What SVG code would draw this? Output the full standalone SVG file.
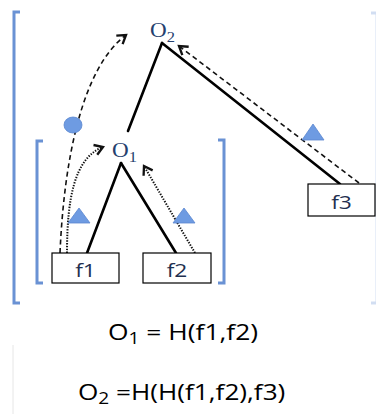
<svg xmlns="http://www.w3.org/2000/svg" width="376" height="414" viewBox="0 0 376 414">
<style>
.br{fill:none;stroke:#6a92d4;stroke-width:3}
.edge{fill:none;stroke:#000;stroke-width:2.6;stroke-linecap:round}
.dash{fill:none;stroke:#111;stroke-width:1.6;stroke-dasharray:5 3.5}
.dot{fill:none;stroke:#111;stroke-width:2;stroke-dasharray:1.4 1.4}
.box{fill:#fff;stroke:#000;stroke-width:1.2}
.tri{fill:#6e9be2;stroke:#5b87cf;stroke-width:0.8}
.lbl{font-family:"Open Sans","Liberation Sans",sans-serif;font-size:19px;fill:#1f3050;text-anchor:middle}
.op{font-family:"Liberation Serif","Times New Roman",serif;font-size:21px;fill:#24406e}
.f{font-family:"Open Sans","Liberation Sans",sans-serif;font-size:22px;fill:#000}
</style>
<defs>
<marker id="chev" markerUnits="userSpaceOnUse" markerWidth="14" markerHeight="14" viewBox="-8 -6 10 12" refX="0" refY="0" orient="auto">
<polyline points="-7,-4.5 0,0 -7,4.5" fill="none" stroke="#111" stroke-width="2"/>
</marker>
</defs>
<g id="brackets">
<path class="br" d="M20,12 L14,12 L14,303 L20,303"/>
<path class="br" d="M43,141 L37,141 L37,283 L43,283"/>
<path class="br" d="M218,140 L224,140 L224,283 L218,283"/>
<path class="br" d="M371,13 L377,13 L377,303 L371,303" stroke-width="1.5" opacity="0.3"/>
<line x1="13" y1="345" x2="13" y2="414" stroke="#e6e6e6" stroke-width="1"/>
</g>
<g id="connectors">
<line class="edge" x1="162" y1="43" x2="128" y2="131"/>
<line class="edge" x1="162" y1="43" x2="340" y2="184"/>
<line class="edge" x1="121" y1="163" x2="87" y2="253"/>
<line class="edge" x1="121" y1="163" x2="176" y2="253"/>
<path class="dash" d="M60,253 C64,160 82,68 126,35" marker-end="url(#chev)"/>
<path class="dot" d="M67,253 C67,200 74,158 103,147" marker-end="url(#chev)"/>
<path class="dot" d="M195,253 L144,166" marker-end="url(#chev)"/>
<path class="dash" d="M359,183 L179,46" marker-end="url(#chev)"/>
<ellipse cx="73" cy="125" rx="9" ry="8" fill="#6e9be2" stroke="#5b87cf" stroke-width="0.8"/>
<polygon class="tri" points="68,223 90,223 79,208"/>
<polygon class="tri" points="173,223 195,223 184,208"/>
<polygon class="tri" points="302,140 324,140 313,124"/>
</g>
<g id="O2">
<text class="op" transform="translate(150,37) scale(1.1,1)">O<tspan font-size="15" dy="5">2</tspan></text>
</g>
<g id="O1">
<text class="op" transform="translate(112,157) scale(1.1,1)">O<tspan font-size="15" dy="5">1</tspan></text>
</g>
<g id="f1">
<rect class="box" x="52" y="253" width="67" height="30"/>
<text class="lbl" transform="translate(85.5,277) scale(1.2,1)">f1</text>
</g>
<g id="f2">
<rect class="box" x="143" y="253" width="68" height="30"/>
<text class="lbl" transform="translate(177,277) scale(1.2,1)">f2</text>
</g>
<g id="f3">
<rect class="box" x="308" y="184" width="67" height="32"/>
<text class="lbl" transform="translate(341.5,209) scale(1.2,1)">f3</text>
</g>
<g id="formulas">
<text class="f" transform="translate(108,340) scale(1.2,1)">O<tspan font-size="16" dy="4">1</tspan><tspan dy="-4"> = H(f1,f2)</tspan></text>
<text class="f" transform="translate(78,400) scale(1.19,1)">O<tspan font-size="16" dy="4">2</tspan><tspan dy="-4"> =H(H(f1,f2),f3)</tspan></text>
</g>
</svg>
